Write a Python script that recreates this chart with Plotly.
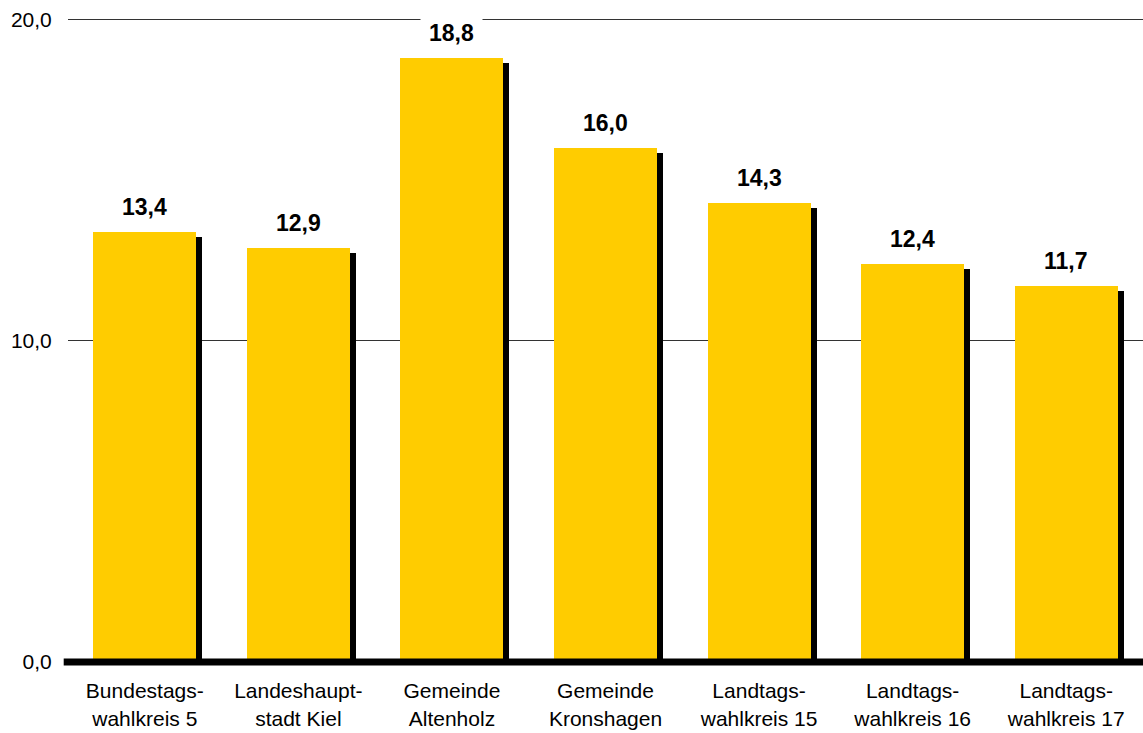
import plotly.graph_objects as go

categories = ["Bundestags-<br>wahlkreis 5", "Landeshaupt-<br>stadt Kiel", "Gemeinde<br>Altenholz",
              "Gemeinde<br>Kronshagen", "Landtags-<br>wahlkreis 15", "Landtags-<br>wahlkreis 16",
              "Landtags-<br>wahlkreis 17"]
values = [13.4, 12.9, 18.8, 16.0, 14.3, 12.4, 11.7]
value_labels = ["13,4", "12,9", "18,8", "16,0", "14,3", "12,4", "11,7"]
tick_vals = [0, 10, 20]
tick_text = ["0,0", "10,0", "20,0"]

FONT = "Arial, Liberation Sans, sans-serif"
BAR_W = 0.67
SHADOW_DX = 0.039     # shadow shift in category units (~6px)
SHADOW_DY = 0.16      # shadow drop in value units (~5px)

x_idx = list(range(len(categories)))

fig = go.Figure()
# shadow
fig.add_trace(go.Bar(
    x=x_idx, y=[v - SHADOW_DY for v in values],
    width=BAR_W, offset=-BAR_W / 2 + SHADOW_DX,
    marker=dict(color="black", line=dict(width=0)),
    hoverinfo="skip", showlegend=False,
))
# main bars
fig.add_trace(go.Bar(
    x=x_idx, y=values,
    width=BAR_W, offset=-BAR_W / 2,
    marker=dict(color="#FFCC00", line=dict(width=0)),
    showlegend=False,
))

for i, (v, t) in enumerate(zip(values, value_labels)):
    fig.add_annotation(
        x=i, y=v, text="<b>%s</b>" % t, showarrow=False,
        yanchor="middle", yshift=25,
        font=dict(family=FONT, size=23, color="black"),
        bgcolor="white", borderpad=8,
    )

# thick baseline (paper coords so it is not clipped by the plot area)
fig.add_shape(type="line", xref="paper", yref="paper", x0=-0.004, x1=1, y0=0, y1=0,
              line=dict(color="black", width=7), layer="above")

fig.update_layout(
    width=1143, height=733,
    margin=dict(l=68, r=0, t=18, b=71),
    paper_bgcolor="white", plot_bgcolor="white",
    barmode="overlay",
    bargap=0,
    font=dict(family=FONT, size=21, color="black"),
    xaxis=dict(
        tickmode="array", tickvals=x_idx, ticktext=categories,
        range=[-0.5, len(categories) - 0.5],
        showgrid=False, showline=False, zeroline=False,
        ticks="outside", ticklen=10, tickcolor="white",
        tickfont=dict(family=FONT, size=21, color="black"),
    ),
    yaxis=dict(
        range=[0, 20.05], tickmode="array", tickvals=tick_vals, ticktext=tick_text,
        showgrid=True, gridcolor="#333333", gridwidth=1,
        zeroline=False, showline=False,
        ticks="outside", ticklen=11, tickcolor="white",
        tickfont=dict(family=FONT, size=21, color="black"),
    ),
)

fig.write_html("out.html", config={"displayModeBar": False},
               post_script="document.body.style.margin='0px';")
